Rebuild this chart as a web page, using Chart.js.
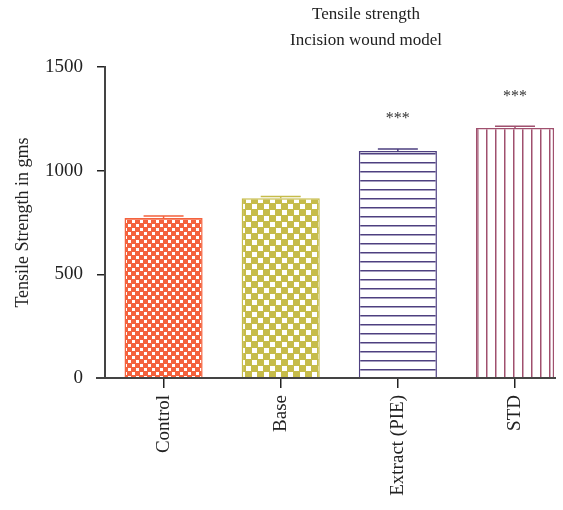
<!DOCTYPE html>
<html>
<head>
<meta charset="utf-8">
<script src="https://cdn.jsdelivr.net/npm/chart.js@4/dist/chart.umd.min.js"></script>
<style>
  html, body { margin: 0; padding: 0; background: #fff; }
  #wrap { width: 563px; height: 510px; }
</style>
</head>
<body>
<div id="wrap"><canvas id="tensileChart" width="563" height="510"></canvas></div>
<script>
const titleLines = ["Tensile strength", "Incision wound model"];
const categories = ["Control", "Base", "Extract (PIE)", "STD"];
const strength = [772, 867, 1095, 1206];
const errors = [9, 9, 9, 8];
const stars = ["", "", "***", "***"];
const yTicks = [0, 500, 1000, 1500];

const serif = "'Liberation Serif', 'Times New Roman', serif";
const barColors = ["#f4623d", "#c6bc4a", "#4e4080", "#a0506e"];

// little tiles for the hatch fills
function makeTile(w, h, draw) {
  const c = document.createElement("canvas");
  c.width = w;
  c.height = h;
  draw(c.getContext("2d"));
  return document.createElement("canvas").getContext("2d").createPattern(c, "repeat");
}

const fills = [
  makeTile(8, 8, (g) => {
    g.fillStyle = barColors[0];
    g.fillRect(0, 0, 8, 8);
    g.fillStyle = "#fff";
    g.fillRect(0, 0, 3, 3);
    g.fillRect(4, 4, 3, 3);
  }),
  makeTile(12, 12, (g) => {
    g.fillStyle = barColors[1];
    g.fillRect(0, 0, 12, 12);
    g.fillStyle = "#fff";
    g.fillRect(0, 0, 5, 5);
    g.fillRect(6, 6, 5, 5);
  }),
  makeTile(4, 9.4, (g) => {
    g.fillStyle = "#fff";
    g.fillRect(0, 0, 4, 10);
    g.fillStyle = barColors[2];
    g.fillRect(0, 0, 4, 1.5);
  }),
  makeTile(9.7, 4, (g) => {
    g.fillStyle = "#fff";
    g.fillRect(0, 0, 10, 4);
    g.fillStyle = barColors[3];
    g.fillRect(0, 0, 1.5, 4);
  }),
];

const extras = {
  id: "extras",
  afterDatasetsDraw(chart) {
    const { ctx, chartArea, scales } = chart;
    const meta = chart.getDatasetMeta(0);
    ctx.save();
    // x axis line, sticks out a bit to the left like the original
    ctx.strokeStyle = "#444";
    ctx.lineWidth = 2;
    ctx.beginPath();
    ctx.moveTo(chartArea.left - 9, chartArea.bottom);
    ctx.lineTo(chartArea.right, chartArea.bottom);
    ctx.stroke();

    meta.data.forEach((bar, i) => {
      const yTop = scales.y.getPixelForValue(strength[i] + errors[i]);
      const yVal = scales.y.getPixelForValue(strength[i]);
      ctx.strokeStyle = barColors[i];
      ctx.lineWidth = 1.5;
      ctx.beginPath();
      ctx.moveTo(bar.x, yVal);
      ctx.lineTo(bar.x, yTop);
      ctx.moveTo(bar.x - 20, yTop);
      ctx.lineTo(bar.x + 20, yTop);
      ctx.stroke();
      if (stars[i]) {
        ctx.fillStyle = "#333";
        ctx.font = "16px " + serif;
        ctx.textAlign = "center";
        ctx.textBaseline = "middle";
        ctx.fillText(stars[i], bar.x, yTop - 30);
      }
    });

    ctx.fillStyle = "#222";
    ctx.font = "17px " + serif;
    ctx.textAlign = "center";
    ctx.textBaseline = "middle";
    titleLines.forEach((t, k) => ctx.fillText(t, chartArea.left + 261, 15 + k * 26));
    ctx.restore();
  },
};

new Chart(document.getElementById("tensileChart"), {
  type: "bar",
  data: {
    datasets: [
      {
        data: strength.map((v, i) => ({ x: i, y: v })),
        backgroundColor: fills,
        borderColor: barColors,
        borderWidth: 1.5,
        barPercentage: 0.667,
        categoryPercentage: 1,
      },
    ],
  },
  options: {
    responsive: false,
    animation: false,
    layout: { padding: { top: 67, right: 7, left: 0, bottom: 0 } },
    plugins: { legend: { display: false }, tooltip: { enabled: false } },
    scales: {
      x: {
        type: "linear",
        offset: false,
        min: -0.5,
        max: 3.35,
        afterBuildTicks: (scale) => {
          scale.ticks = scale.ticks.filter((t) => Number.isInteger(t.value));
        },
        afterFit: (scale) => {
          scale.height = 132;
        },
        border: { display: false },
        grid: {
          offset: false,
          drawOnChartArea: false,
          drawTicks: true,
          tickLength: 10,
          tickColor: "#222",
          lineWidth: 1.5,
        },
        ticks: {
          stepSize: 1,
          autoSkip: false,
          maxRotation: 90,
          minRotation: 90,
          padding: 7,
          color: "#222",
          font: { family: serif, size: 19 },
          callback: (v) => categories[v],
        },
      },
      y: {
        min: 0,
        max: 1500,
        afterBuildTicks: (scale) => {
          scale.ticks = yTicks.map((v) => ({ value: v }));
        },
        afterFit: (scale) => {
          scale.width = 105;
        },
        border: { display: true, color: "#444", width: 2 },
        grid: {
          drawOnChartArea: false,
          drawTicks: true,
          tickLength: 8,
          tickColor: "#222",
          lineWidth: 1.5,
        },
        ticks: {
          padding: 14,
          color: "#222",
          font: { family: serif, size: 19 },
          callback: (v) => String(v),
        },
        title: {
          display: true,
          text: "Tensile Strength in gms",
          color: "#222",
          padding: { top: 12, bottom: 0 },
          font: { family: serif, size: 18 },
        },
      },
    },
  },
  plugins: [extras],
});
</script>
</body>
</html>
